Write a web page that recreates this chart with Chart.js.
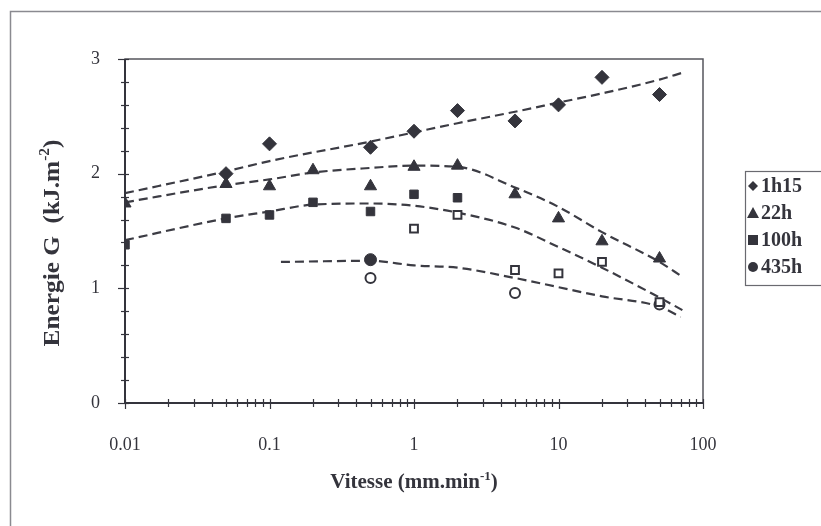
<!DOCTYPE html>
<html><head><meta charset="utf-8">
<script src="https://cdn.jsdelivr.net/npm/chart.js@4/dist/chart.umd.min.js"></script>
<style>html,body{margin:0;padding:0;background:#fff}#wrap{width:821px;height:526px}</style>
</head><body><div id="wrap"><canvas id="c" width="821" height="526"></canvas></div>
<script>
// ---- data ----
const seriesNames = ['1h15', '22h', '100h', '435h'];
const xTickLabels = ['0.01', '0.1', '1', '10', '100'];
const yTickLabels = ['0', '1', '2', '3'];

const speeds1h15 = [0.05, 0.1, 0.5, 1, 2, 5, 10, 20, 50];
const g1h15 = [2.00, 2.26, 2.23, 2.37, 2.55, 2.46, 2.60, 2.84, 2.69];

const speeds22h = [0.01, 0.05, 0.1, 0.2, 0.5, 1, 2, 5, 10, 20, 50];
const g22h = [1.74, 1.91, 1.89, 2.03, 1.89, 2.06, 2.07, 1.82, 1.61, 1.41, 1.26];

const speeds100h = [0.01, 0.05, 0.1, 0.2, 0.5, 1, 2];
const g100h = [1.38, 1.61, 1.64, 1.75, 1.67, 1.82, 1.79];
const speeds100hOpen = [1, 2, 5, 10, 20, 50];
const g100hOpen = [1.52, 1.64, 1.16, 1.13, 1.23, 0.88];

const speeds435h = [0.5];
const g435h = [1.25];
const speeds435hOpen = [0.5, 5, 50];
const g435hOpen = [1.09, 0.96, 0.86];

// dashed trend curves
const fitX1h15 = [0.01, 0.05, 0.1, 0.5, 1, 2, 5, 10, 20, 50, 72];
const fit1h15 = [1.83, 2.02, 2.11, 2.28, 2.36, 2.44, 2.54, 2.62, 2.70, 2.82, 2.88];
const fitX22h = [0.01, 0.05, 0.1, 0.2, 0.5, 1, 2, 5, 10, 20, 50, 72];
const fit22h = [1.75, 1.90, 1.95, 2.01, 2.05, 2.07, 2.06, 1.88, 1.71, 1.49, 1.23, 1.10];
const fitX100h = [0.01, 0.05, 0.1, 0.2, 0.5, 1, 2, 5, 10, 20, 50, 72];
const fit100h = [1.42, 1.61, 1.67, 1.73, 1.74, 1.72, 1.66, 1.53, 1.36, 1.18, 0.92, 0.81];
const fitX435h = [0.12, 0.5, 1, 2, 5, 10, 20, 50, 70];
const fit435h = [1.23, 1.24, 1.20, 1.18, 1.09, 1.01, 0.93, 0.84, 0.75];

// axis titles: [main text, superscript, closing text]
const xTitleParts = ['Vitesse (mm.min', '-1', ')'];
const yTitleParts = ['Energie G  (kJ.m', '-2', ')'];

// ---- build ----
const INK = '#34343c';
const SERIF = '"Liberation Serif", "Times New Roman", serif';
const zip = (xs, ys) => xs.map((x, i) => ({x, y: ys[i]}));

function pts(label, xs, ys, style, radius, open) {
  return {
    type: 'scatter', label, data: zip(xs, ys), showLine: false,
    pointStyle: style, pointRadius: radius, pointHoverRadius: radius,
    backgroundColor: open ? '#ffffff' : INK, borderColor: INK,
    borderWidth: open ? 2 : 1, order: 1
  };
}
function fit(xs, ys) {
  return {
    type: 'line', label: '', data: zip(xs, ys), borderColor: '#3c3c44',
    borderWidth: 2.2, borderDash: [9, 5], pointRadius: 0, fill: false,
    cubicInterpolationMode: 'monotone', order: 2
  };
}

const datasets = [
  fit(fitX1h15, fit1h15), fit(fitX22h, fit22h), fit(fitX100h, fit100h), fit(fitX435h, fit435h),
  pts(seriesNames[0], speeds1h15, g1h15, 'rectRot', 7, false),
  pts(seriesNames[1], speeds22h, g22h, 'triangle', 7, false),
  pts(seriesNames[2], speeds100h, g100h, 'rect', 6, false),
  pts('', speeds100hOpen, g100hOpen, 'rect', 5.5, true),
  pts(seriesNames[3], speeds435h, g435h, 'circle', 6, false),
  pts('', speeds435hOpen, g435hOpen, 'circle', 5, true)
];

function drawTitle(ctx, parts, cx, cy, rot, size, stretch) {
  ctx.save();
  ctx.translate(cx, cy);
  ctx.rotate(rot);
  ctx.scale(stretch, 1);
  ctx.fillStyle = INK;
  ctx.textBaseline = 'alphabetic';
  ctx.textAlign = 'left';
  const big = 'bold ' + size + 'px ' + SERIF;
  const small = 'bold ' + Math.round(size * 0.62) + 'px ' + SERIF;
  ctx.font = big; const w0 = ctx.measureText(parts[0]).width;
  ctx.font = small; const w1 = ctx.measureText(parts[1]).width;
  ctx.font = big; const w2 = ctx.measureText(parts[2]).width;
  let x = -(w0 + w1 + w2) / 2;
  const base = size * 0.35;
  ctx.font = big; ctx.fillText(parts[0], x, base); x += w0;
  ctx.font = small; ctx.fillText(parts[1], x, base - size * 0.42); x += w1;
  ctx.font = big; ctx.fillText(parts[2], x, base);
  ctx.restore();
}

const decorPlugin = {
  id: 'decor',
  beforeDraw(chart) {
    const ctx = chart.ctx;
    ctx.save();
    ctx.fillStyle = '#fff';
    ctx.fillRect(0, 0, chart.width, chart.height);
    ctx.strokeStyle = '#8a8a90';
    ctx.lineWidth = 1.5;
    ctx.beginPath();
    ctx.moveTo(10.5, chart.height + 5);
    ctx.lineTo(10.5, 11.5);
    ctx.lineTo(chart.width + 5, 11.5);
    ctx.stroke();
    ctx.restore();
  },
  afterDraw(chart) {
    const ctx = chart.ctx, a = chart.chartArea;
    const xs = chart.scales.x, ys = chart.scales.y;
    ctx.save();
    // plot frame
    ctx.strokeStyle = '#55555c';
    ctx.lineWidth = 1.5;
    ctx.strokeRect(a.left, a.top, a.right - a.left, a.bottom - a.top);
    // axis lines
    ctx.strokeStyle = INK;
    ctx.lineWidth = 2;
    ctx.beginPath();
    ctx.moveTo(a.left, a.top); ctx.lineTo(a.left, a.bottom); ctx.lineTo(a.right, a.bottom);
    ctx.stroke();
    ctx.lineWidth = 1.2;
    // y ticks every 0.2 crossing the axis
    for (let k = 0; k <= 15; k++) {
      const v = k * 0.2;
      const py = Math.round(ys.getPixelForValue(v)) + 0.5;
      const major = k % 5 === 0;
      ctx.beginPath();
      ctx.moveTo(a.left - (major ? 7 : 4), py);
      ctx.lineTo(a.left + 4, py);
      ctx.stroke();
    }
    // x log ticks crossing the axis
    for (let d = -2; d <= 1; d++) {
      for (let m = 1; m <= 10; m++) {
        if (m === 10 && d < 1) continue;
        const v = m * Math.pow(10, d);
        const px = Math.round(xs.getPixelForValue(v)) + 0.5;
        const major = (m === 1 || m === 10);
        ctx.beginPath();
        ctx.moveTo(px, a.bottom - 4);
        ctx.lineTo(px, a.bottom + (major ? 6 : 4));
        ctx.stroke();
      }
    }
    // axis titles
    drawTitle(ctx, xTitleParts, (a.left + a.right) / 2, 481, 0, 21, 1);
    drawTitle(ctx, yTitleParts, 51, 243, -Math.PI / 2, 23, 1.1);
    // legend box
    const lx = 745, ly = 171, lh = 27;
    ctx.strokeStyle = '#6a6a70';
    ctx.lineWidth = 1.2;
    ctx.strokeRect(lx + 0.5, ly + 0.5, 90, 114);
    ctx.fillStyle = INK;
    ctx.font = 'bold 20px ' + SERIF;
    ctx.textBaseline = 'middle';
    ctx.textAlign = 'left';
    const legendSets = chart.data.datasets.filter(ds => ds.label);
    legendSets.forEach((ds, i) => {
      const cy = ly + 15 + i * lh, cx = lx + 8;
      ctx.beginPath();
      const r = 5;
      if (ds.pointStyle === 'rectRot') {
        ctx.moveTo(cx, cy - r); ctx.lineTo(cx + r, cy); ctx.lineTo(cx, cy + r); ctx.lineTo(cx - r, cy);
      } else if (ds.pointStyle === 'triangle') {
        ctx.moveTo(cx, cy - r - 1); ctx.lineTo(cx + r + 1, cy + r); ctx.lineTo(cx - r - 1, cy + r);
      } else if (ds.pointStyle === 'rect') {
        ctx.rect(cx - r, cy - r, 2 * r, 2 * r);
      } else {
        ctx.arc(cx, cy, r, 0, Math.PI * 2);
      }
      ctx.closePath();
      ctx.fill();
      ctx.fillText(ds.label, cx + 8, cy + 1);
    });
    ctx.restore();
  }
};

new Chart(document.getElementById('c'), {
  type: 'scatter',
  data: {datasets},
  options: {
    responsive: false, animation: false, devicePixelRatio: 1,
    layout: {padding: {left: 0, right: 118, top: 59, bottom: 0}},
    plugins: {legend: {display: false}, tooltip: {enabled: false}},
    scales: {
      x: {
        type: 'logarithmic', min: 0.01, max: 100,
        grid: {display: false}, border: {display: false},
        afterBuildTicks(scale) {
          scale.ticks = xTickLabels.map(t => ({value: parseFloat(t), label: t}));
        },
        ticks: {
          color: INK, padding: 23, maxRotation: 0, autoSkip: false,
          font: {family: SERIF, size: 18},
          callback(v) { const s = xTickLabels.find(t => parseFloat(t) === v); return s === undefined ? '' : s; }
        },
        title: {display: false},
        afterFit(scale) { scale.height = 123; }
      },
      y: {
        min: 0, max: 3,
        grid: {display: false}, border: {display: false},
        afterBuildTicks(scale) {
          scale.ticks = yTickLabels.map(t => ({value: parseFloat(t), label: t}));
        },
        ticks: {
          color: INK, padding: 17, font: {family: SERIF, size: 18},
          callback(v) { const s = yTickLabels.find(t => parseFloat(t) === v); return s === undefined ? '' : s; }
        },
        title: {display: false},
        afterFit(scale) { scale.width = 125; }
      }
    }
  },
  plugins: [decorPlugin]
});
</script></body></html>
